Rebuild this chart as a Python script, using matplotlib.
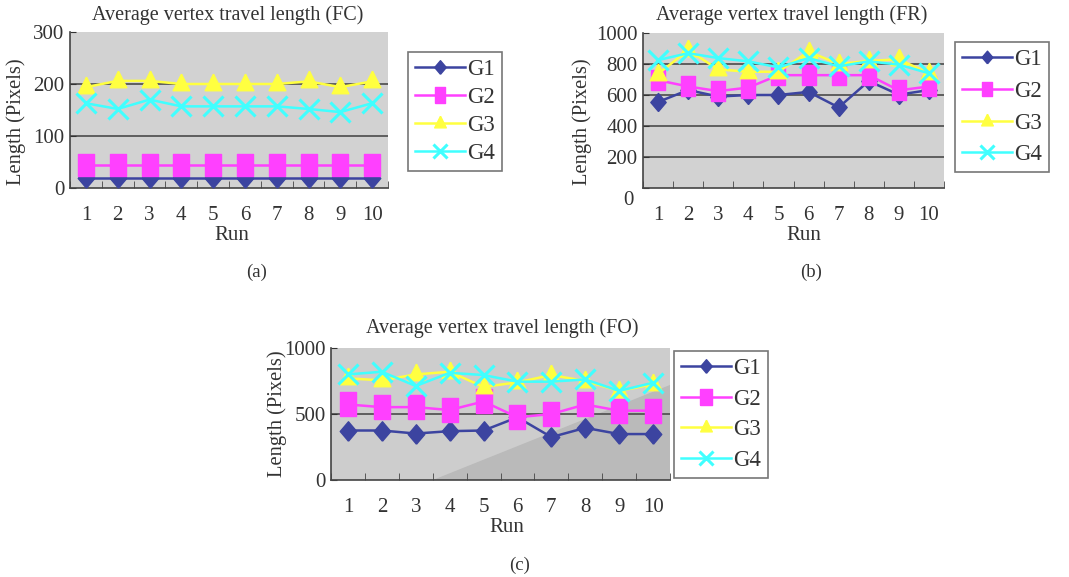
import numpy as np
import matplotlib.pyplot as plt
from matplotlib.patches import Polygon

plt.rcParams['font.family'] = ['Liberation Serif', 'DejaVu Serif']

runs = np.arange(1, 11)
series = ['G1', 'G2', 'G3', 'G4']

# (a) FC
fc_g1 = [19, 19, 19, 19, 19, 19, 19, 19, 19, 19]
fc_g2 = [44, 44, 44, 44, 44, 44, 44, 44, 44, 44]
fc_g3 = [194, 206, 206, 200, 200, 200, 200, 205, 194, 205]
fc_g4 = [163, 152, 170, 157, 157, 157, 157, 152, 146, 163]

# (b) FR
fr_g1 = [555, 632, 590, 600, 600, 620, 520, 690, 602, 632]
fr_g2 = [695, 655, 625, 648, 728, 728, 728, 728, 630, 655]
fr_g3 = [735, 890, 765, 750, 750, 880, 800, 820, 830, 740]
fr_g4 = [825, 870, 838, 817, 778, 838, 785, 817, 796, 740]

# (c) FO
fo_g1 = [375, 375, 352, 370, 375, 475, 325, 395, 348, 348]
fo_g2 = [572, 552, 552, 530, 595, 475, 500, 572, 525, 525]
fo_g3 = [770, 755, 800, 820, 705, 740, 795, 750, 675, 725]
fo_g4 = [800, 820, 712, 812, 795, 745, 745, 762, 675, 737]

colors = ['#3c44a0', '#ff40ff', '#ffff40', '#40ffff']

# Excel-like markers (slightly tall, as in the scanned figure)
diamond = [(0, -1), (0.85, 0), (0, 1), (-0.85, 0), (0, -1)]
rect = [(-0.7, -1), (0.7, -1), (0.7, 1), (-0.7, 1), (-0.7, -1)]
tri = [(0, 1), (0.8, -0.6), (-0.8, -0.6), (0, 1)]
xmark = 'x'
markers = [diamond, rect, tri, xmark]
W, H = 1069, 577


def fx(px):
    return px / W


def fy(py):
    return 1 - py / H


def panel(box, data, ylim, yticks, grid, msize, title, tpos, ylab, runlab, cap, legbox,
          bg='#d2d2d2', zero_label_low=False, shade=False):
    l, t, r, b = box
    ax = plt.gcf().add_axes([fx(l), fy(b), fx(r - l), (b - t) / H])
    ax.set_facecolor(bg)
    if shade:
        ax.add_patch(Polygon([(0.30, 0), (1, 0), (1, 0.72)], closed=True,
                             transform=ax.transAxes, color='#bababa', zorder=0))
    for g in grid:
        ax.axhline(g, color='#555555', lw=1.3, zorder=1)
    for i, vals in enumerate(data):
        m = markers[i]
        ms = msize[i]
        kw = dict(color=colors[i], lw=1.8, marker=m, markersize=ms, zorder=3 + i,
                  label=series[i], clip_on=True)
        if m == 'x':
            kw.update(markeredgewidth=2.2)
        else:
            kw.update(markeredgecolor=colors[i], markerfacecolor=colors[i])
        ax.plot(runs, vals, **kw)
    ax.set_xlim(0.5, 10.5)
    ax.set_ylim(*ylim)
    ax.set_yticks(yticks)
    labels = [str(v) for v in yticks]
    if zero_label_low:
        # the "0" label sits below the axis in the original figure
        labels[0] = ''
        ax.text(-0.03, -0.08, '0', transform=ax.transAxes, ha='right', va='center',
                fontsize=15, color='#333333')
    ax.set_yticklabels(labels)
    ax.set_xticks(runs)
    ax.set_xticks(np.arange(0.5, 11, 1), minor=True)
    ax.tick_params(axis='x', which='major', length=0, pad=13, labelsize=15, colors='#333333')
    ax.tick_params(axis='x', which='minor', direction='in', length=5, color='#444444')
    ax.tick_params(axis='y', direction='in', length=4, labelsize=15, pad=4,
                   colors='#333333')
    for s in ['top', 'right']:
        ax.spines[s].set_visible(False)
    for s in ['left', 'bottom']:
        ax.spines[s].set_color('#444444')
        ax.spines[s].set_linewidth(1.2)
    fig = plt.gcf()
    fig.text(fx(tpos[0]), fy(tpos[1]), title, ha='center', va='center', fontsize=14.5,
             color='#333333')
    fig.text(fx(ylab[0]), fy(ylab[1]), 'Length (Pixels)', rotation=90, ha='center',
             va='center', fontsize=14.8, color='#333333')
    fig.text(fx(runlab[0]), fy(runlab[1]), 'Run', ha='center', va='center', fontsize=15,
             color='#333333')
    fig.text(fx(cap[0]), fy(cap[1]), cap[2], ha='center', va='center', fontsize=13.5,
             color='#333333')
    leg = fig.legend(*ax.get_legend_handles_labels(), loc='upper left',
                     bbox_to_anchor=(fx(legbox[0]), fy(legbox[1])), borderaxespad=0,
                     fontsize=16.5, fancybox=False, frameon=True, edgecolor='#555555',
                     handlelength=2.2, handletextpad=0.1, labelspacing=legbox[2],
                     borderpad=0.3, markerscale=0.7)
    leg.get_frame().set_linewidth(1.2)
    for txt in leg.get_texts():
        txt.set_color('#333333')
    return ax


fig = plt.figure(figsize=(10.69, 5.77), dpi=100)

panel((70, 32, 388, 188), [fc_g1, fc_g2, fc_g3, fc_g4], (0, 300), [0, 100, 200, 300],
      [100, 200], [14, 16, 15, 15],
      'Average vertex travel length (FC)', (228, 15), (16, 122), (232, 236),
      (257, 272, '(a)'), (408, 52, 0.3))

panel((643, 33, 944, 188), [fr_g1, fr_g2, fr_g3, fr_g4], (0, 1000),
      [0, 200, 400, 600, 800, 1000], [200, 400, 600, 800], [13, 14, 15, 15],
      'Average vertex travel length (FR)', (792, 15), (582, 122), (804, 236),
      (811, 272, '(b)'), (955, 42, 0.47), zero_label_low=True)

panel((331, 348, 670, 480), [fo_g1, fo_g2, fo_g3, fo_g4], (0, 1000), [0, 500, 1000],
      [500], [14, 17, 15, 15],
      'Average vertex travel length (FO)', (502, 328), (277, 414), (507, 528),
      (520, 565, '(c)'), (674, 351, 0.42), bg='#cdcdcd', shade=True)

plt.savefig('out.png', dpi=100)
